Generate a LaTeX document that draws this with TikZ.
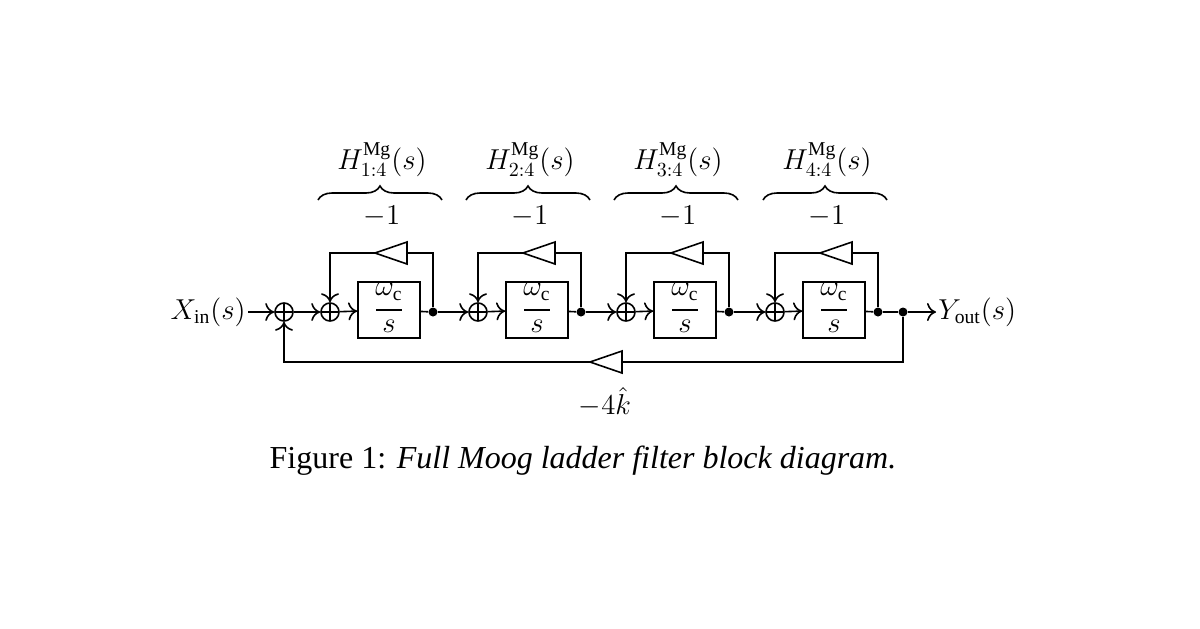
\documentclass[tikz,border=0pt]{standalone}
\usepackage{fontspec}
\setmainfont{Liberation Serif}
\usetikzlibrary{arrows.meta,decorations.pathreplacing}
\begin{document}
\begin{tikzpicture}[x=0.5pt,y=-0.5pt,font=\fontsize{14}{17}\selectfont,
  ln/.style={line width=0.8pt},
  ar/.style={ln,-{To[length=4.5pt,width=9pt]}},
  sum/.style={circle,draw,line width=0.8pt,minimum size=9pt,inner sep=0pt,
    path picture={\draw[line width=0.6pt] (path picture bounding box.north)--(path picture bounding box.south) (path picture bounding box.west)--(path picture bounding box.east);}},
  blk/.style={draw,line width=0.8pt,minimum width=31pt,minimum height=28pt,inner sep=0pt},
  dot/.style={circle,fill,inner sep=0pt,minimum size=4.5pt}]
\useasboundingbox (0,0) rectangle (1200,628);
\node[anchor=east,inner sep=1pt] (xin) at (248,312) {$X_{\mathrm{in}}(s)$};
\node[sum] (s0) at (284,312) {};
\draw[ar] (xin) -- (s0);
\foreach \i/\x in {1/330,2/478,3/626,4/775}{
  \node[sum] (a\i) at (\x,312) {};
  \node[blk] (b\i) at (\x+59,310) {};
  \node[inner sep=0pt] (w\i) at (\x+59,292) {$\omega_{\mathrm{c}}$};
  \node[inner sep=0pt] (q\i) at (\x+59,326) {$s$};
  \draw[line width=0.6pt] (\x+46,310) -- (\x+72,310);
  \node[dot] (d\i) at (\x+103,312) {};
  \coordinate (tr\i) at (\x+103,253);
  \coordinate (tl\i) at (\x,253);
  \draw[ln] (\x+77,242) -- (\x+77,264) -- (\x+45,253) -- cycle;
  \draw[ln] (d\i) -- (tr\i) -- (\x+77,253);
  \draw[ar] (\x+45,253) -- (tl\i) -- (a\i);
  \draw[ar] (a\i) -- (b\i);
  \draw[ln] (b\i) -- (d\i);
  \draw[decorate,decoration={brace,amplitude=7pt},ln] (\x-12,200) -- (\x+112,200);
  \node (m\i) at (\x+52,216) {$-1$};
  \node (h\i) at (\x+52,160) {$H^{\mathrm{Mg}}_{\i:4}(s)$};
}
\draw[ar] (s0) -- (a1);
\draw[ar] (d1) -- (a2);
\draw[ar] (d2) -- (a3);
\draw[ar] (d3) -- (a4);
\node[dot] (d5) at (903,312) {};
\node[anchor=west,inner sep=1pt] (yout) at (936,312) {$Y_{\mathrm{out}}(s)$};
\draw[ln] (d4) -- (d5);
\draw[ar] (d5) -- (yout);
\draw[ln] (622,351) -- (622,373) -- (590,362) -- cycle;
\draw[ln] (d5) -- (903,362) -- (622,362);
\draw[ar] (590,362) -- (284,362) -- (s0);
\node (k) at (605,402) {$-4\hat{k}$};
\node (cap) at (583,461) {\fontsize{16}{19}\selectfont Figure 1: \textit{Full Moog ladder filter block diagram.}};
\end{tikzpicture}
\end{document}
